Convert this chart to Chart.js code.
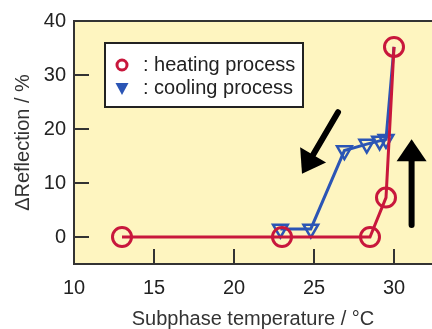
<!DOCTYPE html>
<html>
<head>
<meta charset="utf-8">
<script src="https://cdn.jsdelivr.net/npm/chart.js@4.4.0/dist/chart.umd.min.js"></script>
<style>
  body { margin: 0; background: #fff; }
</style>
</head>
<body>
<canvas id="c" width="432" height="329"></canvas>
<script>
// heating process (red circles)
const heatT = [13, 23, 28.5, 29.5, 30]
const heatR = [0, 0, 0, 7.3, 35.2]
// cooling process (blue triangles), line starts from the top point
const coolT = [30, 29.5, 29.1, 28.3, 26.9, 24.8, 22.9]
const coolR = [35.2, 18.1, 17.8, 17.2, 16.0, 1.5, 1.5]
const seriesNames = ['heating process', 'cooling process']
const xTicks = [10, 15, 20, 25, 30]
const yTicks = [0, 10, 20, 30, 40]
const xTitle = 'Subphase temperature / °C'
const yTitle = 'ΔReflection / %'
// arrows in data units: [x0, y0, x1, y1] (tail -> tip)
const arrowCool = [26.5, 23.1, 24.25, 11.7]
const arrowHeat = [31.1, 2.2, 31.1, 18.1]

const RED = '#c8173c'
const BLUE = '#2b55b5'
const BG = '#fef5c0'
const FONT = '"Liberation Sans", Arial, sans-serif'

function pts(xs, ys) {
    return xs.map((v, i) => ({x: v, y: ys[i]}))
}

function drawArrow(ctx, x, y, a) {
    let x0 = x.getPixelForValue(a[0]), y0 = y.getPixelForValue(a[1])
    let x1 = x.getPixelForValue(a[2]), y1 = y.getPixelForValue(a[3])
    let ang = Math.atan2(y1 - y0, x1 - x0)
    let hl = 22, hw = 15
    let bx = x1 - Math.cos(ang) * hl, by = y1 - Math.sin(ang) * hl
    ctx.strokeStyle = '#000'
    ctx.lineWidth = 6
    ctx.lineCap = 'round'
    ctx.beginPath()
    ctx.moveTo(x0, y0)
    ctx.lineTo(bx, by)
    ctx.stroke()
    ctx.fillStyle = '#000'
    ctx.beginPath()
    ctx.moveTo(x1, y1)
    ctx.lineTo(bx + Math.sin(ang) * hw, by - Math.cos(ang) * hw)
    ctx.lineTo(bx - Math.sin(ang) * hw, by + Math.cos(ang) * hw)
    ctx.closePath()
    ctx.fill()
}

const framePlugin = {
    id: 'frame',
    beforeDatasetsDraw(chart) {
        const {ctx, chartArea: a, scales: {x, y}} = chart
        ctx.save()
        ctx.fillStyle = BG
        ctx.fillRect(a.left, a.top, a.right - a.left, a.bottom - a.top)
        ctx.strokeStyle = '#333'
        ctx.lineWidth = 2
        ctx.beginPath()
        ctx.moveTo(a.right, a.top)
        ctx.lineTo(a.left, a.top)
        ctx.lineTo(a.left, a.bottom)
        ctx.lineTo(a.right, a.bottom)
        xTicks.forEach(v => {
            if (v <= x.min) return
            let px = x.getPixelForValue(v)
            ctx.moveTo(px, a.bottom)
            ctx.lineTo(px, a.bottom - 15)
        })
        yTicks.forEach(v => {
            if (v >= y.max) return
            let py = y.getPixelForValue(v)
            ctx.moveTo(a.left, py)
            ctx.lineTo(a.left + 15, py)
        })
        ctx.stroke()
        drawArrow(ctx, x, y, arrowCool)
        drawArrow(ctx, x, y, arrowHeat)
        ctx.restore()
    },
    afterDraw(chart) {
        const {ctx, chartArea: a} = chart
        let L = a.left + 31, T = a.top + 22
        ctx.save()
        ctx.fillStyle = '#fff'
        ctx.fillRect(L, T, 198, 64)
        ctx.strokeStyle = '#222'
        ctx.lineWidth = 2
        ctx.strokeRect(L, T, 198, 64)
        // heating icon
        ctx.strokeStyle = RED
        ctx.lineWidth = 3
        ctx.beginPath()
        ctx.arc(L + 17, T + 22, 5, 0, Math.PI * 2)
        ctx.stroke()
        // cooling icon
        ctx.fillStyle = BLUE
        ctx.beginPath()
        ctx.moveTo(L + 10.5, T + 40)
        ctx.lineTo(L + 23.5, T + 40)
        ctx.lineTo(L + 17, T + 52)
        ctx.closePath()
        ctx.fill()
        ctx.fillStyle = '#222'
        ctx.font = '20px ' + FONT
        ctx.textBaseline = 'middle'
        ctx.fillText(': ' + seriesNames[0], L + 38, T + 22)
        ctx.fillText(': ' + seriesNames[1], L + 38, T + 45)
        ctx.restore()
    }
}

new Chart(document.getElementById('c'), {
    type: 'scatter',
    data: {
        datasets: [
            {
                label: seriesNames[0],
                data: pts(heatT, heatR),
                showLine: true,
                borderColor: RED,
                borderWidth: 3,
                pointStyle: 'circle',
                pointRadius: 9.5,
                pointBorderWidth: 3,
                pointBorderColor: RED,
                pointBackgroundColor: 'rgba(0,0,0,0)'
            },
            {
                label: seriesNames[1],
                data: pts(coolT, coolR),
                showLine: true,
                borderColor: BLUE,
                borderWidth: 3,
                pointStyle: 'triangle',
                rotation: 180,
                pointRadius: coolT.map((v, i) => i == 0 ? 0 : 8.5),
                pointBorderWidth: 2.5,
                pointBorderColor: BLUE,
                pointBackgroundColor: 'rgba(0,0,0,0)'
            }
        ]
    },
    options: {
        responsive: false,
        animation: false,
        layout: {autoPadding: false, padding: {top: 21, right: 0, left: 0, bottom: 0}},
        plugins: {legend: {display: false}, tooltip: {enabled: false}},
        scales: {
            x: {
                type: 'linear',
                min: 10,
                max: 32.375,
                afterBuildTicks: s => { s.ticks = xTicks.map(v => ({value: v})) },
                afterFit: s => { s.height = 65; s.paddingLeft = 0; s.paddingRight = 0 },
                grid: {display: false, drawTicks: false},
                border: {display: false},
                ticks: {padding: 12, color: '#222', font: {size: 20, family: FONT}, maxRotation: 0},
                title: {display: true, text: xTitle, color: '#333', padding: {top: 0, bottom: 0},
                        font: {size: 20, family: FONT, lineHeight: 1}}
            },
            y: {
                type: 'linear',
                min: -5,
                max: 40,
                afterBuildTicks: s => { s.ticks = yTicks.map(v => ({value: v})) },
                afterFit: s => { s.width = 74; s.paddingTop = 0; s.paddingBottom = 0 },
                grid: {display: false, drawTicks: false},
                border: {display: false},
                ticks: {padding: 8, color: '#222', font: {size: 20, family: FONT}},
                title: {display: true, text: yTitle, color: '#333', padding: {top: 11, bottom: 0},
                        font: {size: 20, family: FONT, lineHeight: 1.2}}
            }
        }
    },
    plugins: [framePlugin]
})
</script>
</body>
</html>
